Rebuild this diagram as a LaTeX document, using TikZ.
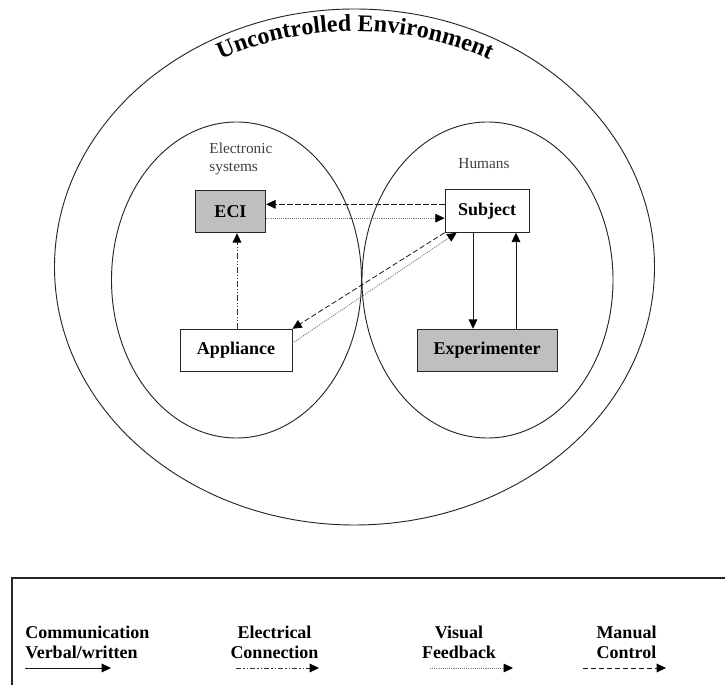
\documentclass[tikz,border=0pt]{standalone}
\usepackage{fontspec}
\setmainfont{Liberation Serif}
\usepackage{tikz}
\usetikzlibrary{arrows.meta,calc,positioning,decorations.text}

\begin{document}
\begin{tikzpicture}[x=0.75pt,y=0.75pt,line width=0.6pt,
zone/.style={draw=black!85, line width=0.7pt},
unit/.style={draw=black!85, minimum height=32pt, inner sep=0pt, font=\fontsize{13.5}{16}\selectfont\bfseries},
shaded/.style={unit, fill=black!25},
area label/.style={inner sep=0pt, text=black!75, font=\fontsize{11.5}{13.5}\selectfont},
legend/.style={inner sep=0pt, font=\fontsize{13.5}{15}\selectfont\bfseries},
tip/.style={-{Triangle[length=7pt,width=6.5pt,color=black]}},
verbal/.style={tip, draw=black!90},
electric/.style={tip, draw=black!80, dash pattern=on 4pt off 1.5pt on 1pt off 1.5pt on 1pt off 1.5pt},
visual/.style={tip, draw=black!55, dash pattern=on 0.8pt off 0.8pt},
manual/.style={tip, draw=black!90, dash pattern=on 4pt off 2pt}]

    \useasboundingbox (0,0) rectangle (725,685);

    % the three areas
    \draw[zone] (354.5,418) ellipse [x radius=300, y radius=258];
    \draw[zone] (236.5,405) ellipse [x radius=125, y radius=158];
    \draw[zone] (487.5,405) ellipse [x radius=125.5, y radius=158];

    \path[decorate, decoration={text along path, text align=center,
        text={|\fontsize{18}{21}\selectfont\bfseries|Uncontrolled Environment}}]
        (193.3,611.1) arc[start angle=125, end angle=55, x radius=282, y radius=236];

    \node[area label, align=left, anchor=north west] (electronic) at (209,543) {Electronic\\systems};
    \node[area label] (humans) at (484,521) {Humans};

    \node[shaded, minimum width=53pt] (eci) at (230.5,473.5) {ECI};
    \node[unit, minimum width=63pt] (subject) at (487,474) {Subject};
    \node[unit, minimum width=84pt] (appliance) at (236,334.5) {Appliance};
    \node[shaded, minimum width=105pt] (experimenter) at (487,334.5) {Experimenter};

    \draw[manual] ([yshift=5pt]subject.west) -- ([yshift=5pt]subject.west -| eci.east);
    \draw[visual] ([yshift=-5pt]eci.east) -- ([yshift=-5pt]eci.east -| subject.west);
    \draw[electric] ([xshift=0.75pt]appliance.north) -- ([xshift=0.75pt]appliance.north |- eci.south);
    \draw[manual] (subject.south west) -- (appliance.north east);
    \draw[visual] ([yshift=5.5pt]appliance.east) -- ([xshift=9pt]subject.south west);
    \draw[verbal] ([xshift=-10.5pt]subject.south) -- ([xshift=-10.5pt]subject.south |- experimenter.north);
    \draw[verbal] ([xshift=21.75pt]experimenter.north) -- ([xshift=21.75pt]experimenter.north |- subject.south);

    % legend
    \draw[line width=0.8pt, black!85] (725,107) -- (12,107) -- (12,0);

    \node[legend, align=left, anchor=west] (lcomm) at (25,43) {Communication\\Verbal/written};
    \node[legend, align=center] (lelec) at (274.5,43) {Electrical\\Connection};
    \node[legend, align=center] (lvis) at (459,43) {Visual\\Feedback};
    \node[legend, align=center] (lman) at (626.5,43) {Manual\\Control};

    \coordinate (comm a) at (25,17);  \coordinate (comm b) at (111,17);
    \coordinate (elec a) at (236,17); \coordinate (elec b) at (319,17);
    \coordinate (vis a) at (430,17);  \coordinate (vis b) at (513,17);
    \coordinate (man a) at (583,17);  \coordinate (man b) at (666,17);

    \draw[verbal] (comm a) -- (comm b);
    \draw[electric] (elec a) -- (elec b);
    \draw[visual] (vis a) -- (vis b);
    \draw[manual] (man a) -- (man b);
\end{tikzpicture}
\end{document}
